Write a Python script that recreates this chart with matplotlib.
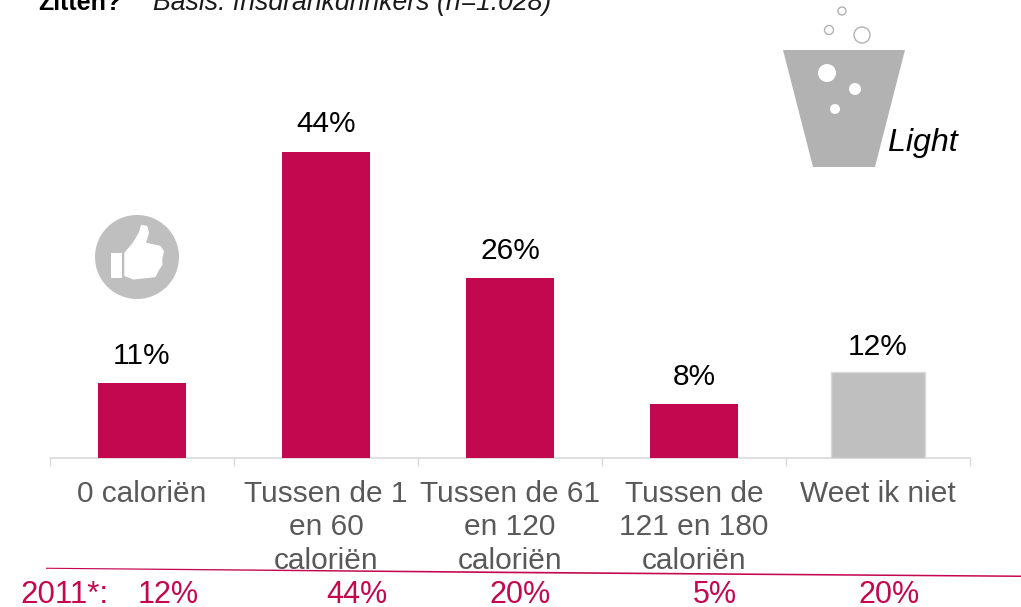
import matplotlib
matplotlib.use("Agg")
import matplotlib.pyplot as plt
from matplotlib.patches import Polygon, Circle, Rectangle

plt.rcParams['font.family'] = ['Liberation Sans', 'DejaVu Sans']

categories = ["0 caloriën", "Tussen de 1\nen 60\ncaloriën", "Tussen de 61\nen 120\ncaloriën",
              "Tussen de\n121 en 180\ncaloriën", "Weet ik niet"]
values = [10.8, 44, 25.9, 7.8, 12.4]
labels = ["11%", "44%", "26%", "8%", "12%"]
values_2011 = ["12%", "44%", "20%", "5%", "20%"]
x_2011 = [168, 357, 520, 715, 889]
bar_colors = ["#C4084F"] * 4 + ["#BFBFBF"]
bar_widths = [0.478, 0.478, 0.478, 0.478, 0.516]
label_offsets = [9, 10.5, 9, 9, 7.5]

W, H = 1021, 607
fig = plt.figure(figsize=(W / 100, H / 100), dpi=100, facecolor="white")

# main chart axes: x 50..970 px, baseline at y=458 px, top at y=0
ax = fig.add_axes([50 / W, (H - 458) / H, 920 / W, 458 / H])
ax.set_xlim(-0.5, 4.5)
ax.set_ylim(0, 458 / 6.95)
ax.patch.set_alpha(0)
pos = list(range(len(values)))
bars = ax.bar(pos, values, width=bar_widths, color=bar_colors, zorder=3)
bars[4].set_edgecolor("#D9D9D9")
bars[4].set_linewidth(1)
ax.bar([4], [0.2], bottom=[-0.2], width=bar_widths[4], color="#D9D9D9", zorder=4, clip_on=False)
for p, v, t, o in zip(pos, values, labels, label_offsets):
    ax.annotate(t, (p, v), xytext=(0, o), textcoords="offset points", ha="center", va="bottom",
                fontsize=21.5, color="black", zorder=4)
for s in ["top", "left", "right"]:
    ax.spines[s].set_visible(False)
ax.spines["bottom"].set_color("#D9D9D9")
ax.spines["bottom"].set_linewidth(1.2)
ax.set_yticks([])
ax.set_xticks([p - 0.5 for p in pos] + [4.5])
ax.set_xticklabels([])
ax.tick_params(axis="x", which="major", length=6, width=1, color="#D9D9D9")
ax.set_xticks(pos, minor=True)
ax.set_xticklabels(categories, minor=True, fontsize=21.5, color="#595959", linespacing=1.27, va="top")
ax.tick_params(axis="x", which="minor", length=0, pad=15.5)

# overlay in pixel coordinates for decoration
ov = fig.add_axes([0, 0, 1, 1], zorder=5)
ov.set_xlim(0, W)
ov.set_ylim(H, 0)
ov.axis("off")
ov.patch.set_alpha(0)

# header clipped at top of the image
ov.text(38, 10, "Zitten?", fontsize=18, fontweight="bold", color="black", va="baseline", ha="left", clip_on=True)
ov.text(153, 10, "Basis: frisdrankdrinkers (n=1.028)", fontsize=19.2, style="italic", color="#1a1a1a", va="baseline", ha="left", clip_on=True)

# glass icon
ov.add_patch(Polygon([(783, 50), (905, 50), (875, 167), (813, 167)], closed=True, fc="#B2B2B2", ec="none"))
for cx, cy, r in [(827, 73, 9), (855, 89, 6), (835, 109, 5)]:
    ov.add_patch(Circle((cx, cy), r, fc="white", ec="none"))
for cx, cy, r in [(842, 11, 4), (829, 30, 4.5), (862, 35, 8)]:
    ov.add_patch(Circle((cx, cy), r, fc="white", ec="#B2B2B2", lw=1))
ov.text(888, 151, "Light", fontsize=23.2, style="italic", color="black", va="baseline", ha="left")

# thumb icon
ov.add_patch(Circle((137, 257), 42, fc="#BFBFBF", ec="none"))
ov.add_patch(Rectangle((111, 253), 11, 25, fc="white", ec="none"))
hand = [(135, 155), (160, 125), (178, 95), (185, 72), (200, 75), (205, 95), (195, 125), (240, 135),
        (250, 150), (245, 170), (245, 190), (235, 205), (225, 225), (160, 232), (135, 222)]
ov.add_patch(Polygon([(80 + a / 3, 201.5 + b / 3) for a, b in hand], closed=True, fc="white", ec="white", lw=1, joinstyle="round"))

# 2011 row and tapered separator
ov.add_patch(Polygon([(46, 567.7), (500, 571.5), (1021, 575.5), (1021, 577), (500, 573.2), (46, 568.8)],
                     closed=True, fc="#C4084F", ec="none"))
ov.text(20, 603, "2011*:", fontsize=22.5, color="#C4084F", va="baseline", ha="left")
for x, t in zip(x_2011, values_2011):
    ov.text(x, 603, t, fontsize=22, color="#C4084F", va="baseline", ha="center")

fig.savefig("out.png", dpi=100)
